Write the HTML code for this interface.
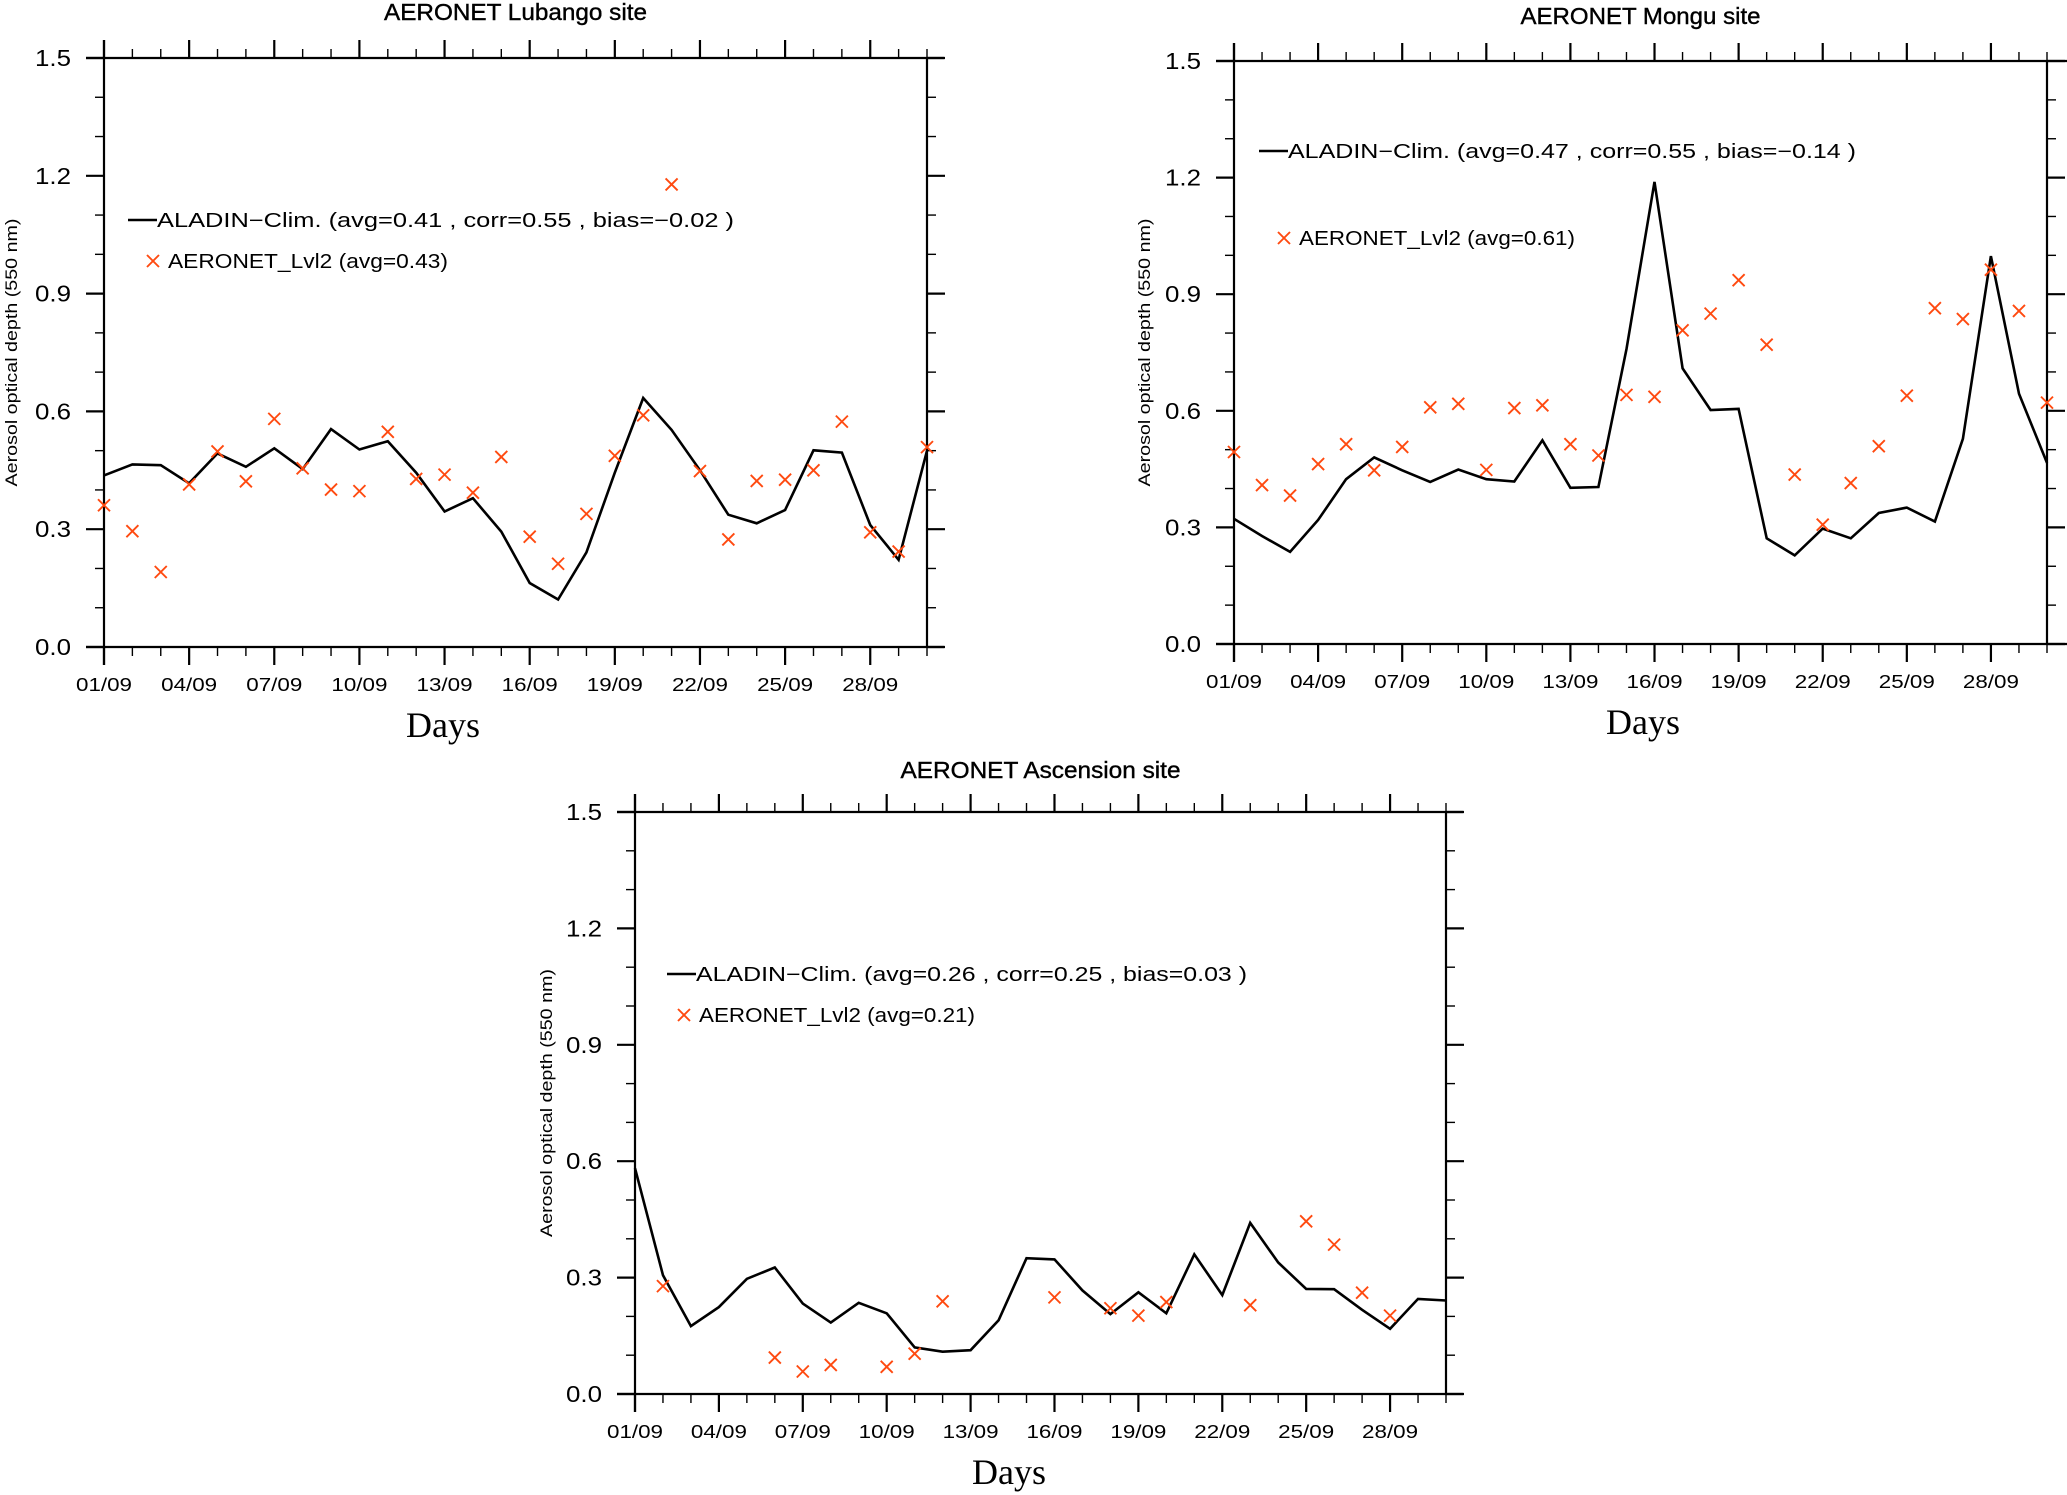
<!DOCTYPE html>
<html><head><meta charset="utf-8"><style>
html,body{margin:0;padding:0;background:#fff;}
svg{display:block;}
text{font-family:"Liberation Sans",sans-serif;fill:#000;}
</style></head><body>
<svg id="fig" width="2067" height="1495" viewBox="0 0 2067 1495" xmlns="http://www.w3.org/2000/svg"></svg>
<script>
const days = [1,2,3,4,5,6,7,8,9,10,11,12,13,14,15,16,17,18,19,20,21,22,23,24,25,26,27,28,29,30];
const xTickLabels = ["01/09","04/09","07/09","10/09","13/09","16/09","19/09","22/09","25/09","28/09"];
const yTickLabels = ["0.0","0.3","0.6","0.9","1.2","1.5"];

const lubangoModel = [0.437,0.465,0.463,0.417,0.493,0.459,0.506,0.453,0.555,0.503,0.524,0.444,0.345,0.379,0.294,0.163,0.121,0.241,0.444,0.634,0.553,0.450,0.337,0.315,0.349,0.501,0.495,0.311,0.222,0.500];
const lubangoObs = [0.361,0.295,0.191,0.414,0.498,0.422,0.581,0.455,0.401,0.397,0.548,0.428,0.439,0.393,0.484,0.281,0.212,0.339,0.487,0.590,1.178,0.448,0.274,0.423,0.426,0.450,0.574,0.292,0.243,0.509];

const monguModel = [0.322,0.278,0.237,0.319,0.424,0.480,0.447,0.417,0.449,0.424,0.418,0.524,0.402,0.404,0.759,1.189,0.709,0.602,0.605,0.272,0.228,0.297,0.272,0.337,0.351,0.315,0.528,0.998,0.644,0.466];
const monguObs = [0.494,0.409,0.382,0.463,0.514,0.447,0.507,0.609,0.618,0.448,0.607,0.614,0.514,0.485,0.641,0.636,0.807,0.850,0.936,0.770,0.436,0.307,0.414,0.509,0.639,0.864,0.836,0.963,0.857,0.621];

const ascModel = [0.582,0.306,0.175,0.224,0.297,0.326,0.233,0.184,0.235,0.208,0.120,0.109,0.113,0.190,0.350,0.347,0.267,0.206,0.262,0.208,0.360,0.255,0.441,0.339,0.271,0.270,0.217,0.168,0.245,0.241];
const ascObs = [null,0.278,null,null,null,0.094,0.058,0.075,null,0.070,0.104,0.239,null,null,null,0.249,null,0.221,0.202,0.237,null,null,0.229,null,0.445,0.385,0.261,0.202,null,null];

const NS="http://www.w3.org/2000/svg";
const svg=document.getElementById('fig');
function mk(tag,attrs,parent){const e=document.createElementNS(NS,tag);for(const k in attrs)e.setAttribute(k,attrs[k]);(parent||svg).appendChild(e);return e;}

function drawPanel(p){
  const g=mk('g',{});
  
  
  const xs=d=>p.L+(d-1)*(p.R-p.L)/29;
  const ys=v=>p.B-v*(p.B-p.T)/1.5;
  const t=mk('text',{x:(p.L+p.R)/2,y:p.titleY,'text-anchor':'middle','font-size':23,stroke:'#000','stroke-width':0.4,textLength:p.titleW,lengthAdjust:'spacingAndGlyphs'},g);
  t.textContent=p.title;
  
  
  const ax=mk('g',{stroke:'#000','stroke-width':2.2,fill:'none'},g);
  
  
  mk('line',{x1:p.L-18,y1:p.T,x2:p.ext,y2:p.T},ax);
  mk('line',{x1:p.L-18,y1:p.B,x2:p.ext,y2:p.B},ax);
  mk('line',{x1:p.L,y1:p.T-18,x2:p.L,y2:p.B+18},ax);
  mk('line',{x1:p.R,y1:p.T,x2:p.R,y2:p.B},ax);
  days.forEach((d,i)=>{
    const major=(i%3===0), len=major?18:9, x=xs(d);
    mk('line',{x1:x,y1:p.B,x2:x,y2:p.B+len,'stroke-width':major?2.2:1.4},ax);
    mk('line',{x1:x,y1:p.T,x2:x,y2:p.T-len,'stroke-width':major?2.2:1.4},ax);
  });
  xTickLabels.forEach((lab,i)=>{
    const tx=mk('text',{x:xs(days[i*3]),y:p.B+44,'text-anchor':'middle','font-size':18,textLength:56,lengthAdjust:'spacingAndGlyphs'},g);
    tx.textContent=lab;
    
    
  });
  for(let k=0;k<=15;k++){
    const v=k/10, y=ys(v), major=(k%3===0), len=major?18:9;
    mk('line',{x1:p.L,y1:y,x2:p.L-len,y2:y,'stroke-width':major?2.2:1.4},ax);
    mk('line',{x1:p.R,y1:y,x2:p.R+len,y2:y,'stroke-width':major?2.2:1.4},ax);
  }
  yTickLabels.forEach((lab,i)=>{
    const ty=mk('text',{x:p.L-33,y:ys(i*0.3)+8,'text-anchor':'end','font-size':23,textLength:36,lengthAdjust:'spacingAndGlyphs'},g);
    ty.textContent=lab;
    
    
  });
  const cy=(p.T+p.B)/2;
  const yt=mk('text',{x:p.yTitleX,y:cy,'text-anchor':'middle','font-size':17,transform:`rotate(-90 ${p.yTitleX} ${cy})`,textLength:268,lengthAdjust:'spacingAndGlyphs'},g);
  yt.textContent='Aerosol optical depth (550 nm)';
  
  
  const xt=mk('text',{x:p.daysX,y:p.B+90,'text-anchor':'middle','font-size':36,style:'font-family:"Liberation Serif",serif'},g);
  xt.textContent='Days';
  
  
  const pts=days.map((d,i)=>xs(d).toFixed(1)+','+ys(p.model[i]).toFixed(1)).join(' ');
  const pl=mk('polyline',{points:pts,fill:'none',stroke:'#000','stroke-width':2.6,'stroke-linejoin':'miter'},g);
  
  
  days.forEach((d,i)=>{
    const v=p.obs[i]; if(v===null) return;
    const x=xs(d), y=ys(v), s=6;
    const c=mk('path',{d:`M${x-s},${y-s}L${x+s},${y+s}M${x-s},${y+s}L${x+s},${y-s}`,stroke:'#ff4a10','stroke-width':1.9,fill:'none'},g);
    
    
  });
  const lg=mk('g',{},g);
  
  
  mk('line',{x1:p.lg.lx,y1:p.lg.ly,x2:p.lg.lx+29,y2:p.lg.ly,stroke:'#000','stroke-width':2.6},lg);
  const l1=mk('text',{x:p.lg.lx+29,y:p.lg.ly+7,'font-size':20,textLength:p.lg.w1,lengthAdjust:'spacingAndGlyphs'},lg);
  l1.textContent=p.lg.t1;
  
  
  const s=6,cx=p.lg.cx,cyy=p.lg.cy;
  mk('path',{d:`M${cx-s},${cyy-s}L${cx+s},${cyy+s}M${cx-s},${cyy+s}L${cx+s},${cyy-s}`,stroke:'#ff4a10','stroke-width':1.9},lg);
  const l2=mk('text',{x:cx+15,y:cyy+7,'font-size':20,textLength:p.lg.w2,lengthAdjust:'spacingAndGlyphs'},lg);
  l2.textContent=p.lg.t2;
  
  
}

drawPanel({id:'lubango',title:'AERONET Lubango site',titleW:263,titleY:20,L:104,R:927,T:58,B:647,ext:944,yTitleX:17,daysX:443,
  model:lubangoModel,obs:lubangoObs,
  lg:{lx:128,ly:220,t1:'ALADIN\u2212Clim. (avg=0.41 , corr=0.55 , bias=\u22120.02 )',w1:577,cx:153,cy:261,t2:'AERONET_Lvl2 (avg=0.43)',w2:280}});
drawPanel({id:'mongu',title:'AERONET Mongu site',titleW:240,titleY:24,L:1234,R:2047,T:61,B:644,ext:2067,yTitleX:1150,daysX:1643,
  model:monguModel,obs:monguObs,
  lg:{lx:1259,ly:151,t1:'ALADIN\u2212Clim. (avg=0.47 , corr=0.55 , bias=\u22120.14 )',w1:568,cx:1284,cy:238,t2:'AERONET_Lvl2 (avg=0.61)',w2:276}});
drawPanel({id:'ascension',title:'AERONET Ascension site',titleW:280,titleY:778,L:635,R:1446,T:812,B:1394,ext:1463,yTitleX:552,daysX:1009,
  model:ascModel,obs:ascObs,
  lg:{lx:667,ly:974,t1:'ALADIN\u2212Clim. (avg=0.26 , corr=0.25 , bias=0.03 )',w1:551,cx:684,cy:1015,t2:'AERONET_Lvl2 (avg=0.21)',w2:276}});
</script>
</body></html>
